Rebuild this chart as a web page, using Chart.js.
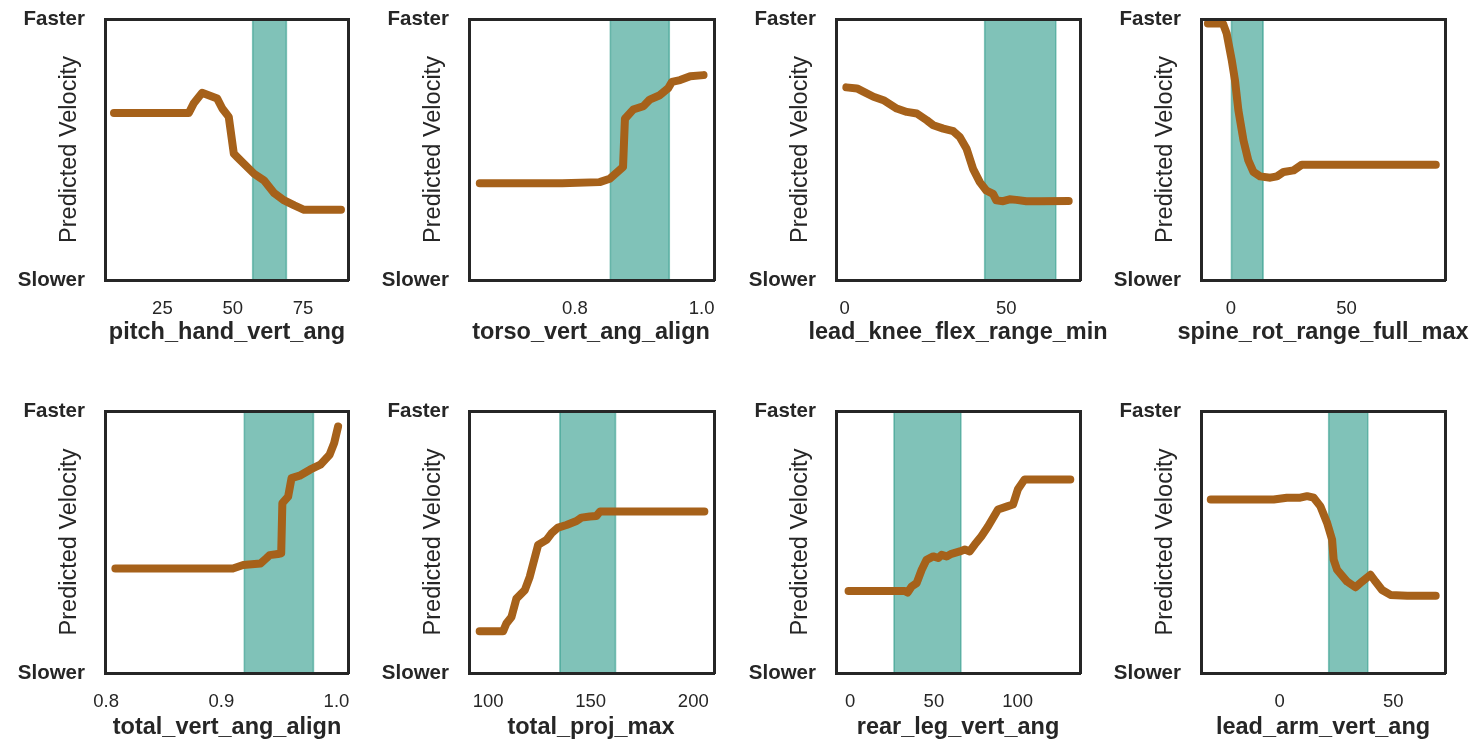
<!DOCTYPE html>
<html>
<head>
<meta charset="utf-8">
<script src="https://cdn.jsdelivr.net/npm/chart.js@4.4.0/dist/chart.umd.min.js"></script>
<style>
  html, body { margin: 0; padding: 0; background: #fff; overflow: hidden; width: 1477px; height: 750px; }
  canvas { position: absolute; }
</style>
</head>
<body>
<script>
        // Partial dependence curves (y: 0 = Slower, 1 = Faster)
        const p1X = [7.8, 34.4, 36.1, 39.1, 44.5, 46.3, 48.6, 50.4, 51.6, 57.6, 61.1, 64.7, 68.3, 71.9, 75.4, 88.5];
        const p1Y = [0.640, 0.640, 0.676, 0.717, 0.695, 0.657, 0.625, 0.484, 0.471, 0.407, 0.382, 0.333, 0.305, 0.286, 0.269, 0.269];

        const p2X = [0.650, 0.780, 0.839, 0.855, 0.876, 0.879, 0.892, 0.908, 0.918, 0.934, 0.947, 0.953, 0.966, 0.982, 1.003];
        const p2Y = [0.371, 0.371, 0.375, 0.388, 0.433, 0.618, 0.653, 0.666, 0.691, 0.708, 0.734, 0.759, 0.766, 0.781, 0.785];

        const p3X = [0.5, 3.8, 5.9, 8.9, 12.0, 16.1, 19.2, 22.3, 25.4, 27.4, 30.5, 33.6, 35.6, 37.7, 39.7, 41.8, 43.8, 45.9, 46.9, 49.0, 51.0, 53.1, 56.2, 60.3, 69.3];
        const p3Y = [0.738, 0.734, 0.721, 0.702, 0.689, 0.657, 0.644, 0.638, 0.612, 0.593, 0.580, 0.570, 0.548, 0.503, 0.426, 0.375, 0.343, 0.330, 0.305, 0.302, 0.309, 0.307, 0.302, 0.302, 0.303];

        const p4X = [-10, -3.5, -1.9, 0.3, 1.7, 3.2, 5.4, 7.5, 9.7, 12.6, 17.0, 19.9, 22.8, 27.1, 30.7, 35.8, 88.7];
        const p4Y = [0.983, 0.983, 0.945, 0.843, 0.766, 0.650, 0.535, 0.458, 0.414, 0.397, 0.392, 0.397, 0.414, 0.420, 0.442, 0.442, 0.442];

        const p5X = [0.808, 0.910, 0.919, 0.934, 0.939, 0.942, 0.949, 0.952, 0.953, 0.958, 0.961, 0.968, 0.977, 0.986, 0.994, 0.998, 1.0014];
        const p5Y = [0.399, 0.399, 0.412, 0.418, 0.4375, 0.450, 0.454, 0.457, 0.648, 0.673, 0.744, 0.753, 0.776, 0.795, 0.833, 0.878, 0.941];

        const p6X = [95.9, 107.3, 108.9, 111.4, 113.8, 117.9, 120.3, 122.0, 124.4, 128.5, 130.9, 134.1, 138.2, 143.1, 145.5, 149.6, 152.8, 154.5, 205.4];
        const p6Y = [0.159, 0.159, 0.189, 0.214, 0.284, 0.316, 0.367, 0.418, 0.489, 0.508, 0.533, 0.555, 0.565, 0.580, 0.593, 0.597, 0.599, 0.616, 0.616];

        const p7X = [-1, 32.7, 34.3, 36.7, 39.7, 42.7, 45.6, 49.6, 52.6, 54.6, 57.6, 60.5, 65.5, 68.5, 71.4, 74.4, 78.4, 82.4, 88.3, 94.3, 97.3, 100.2, 104.2, 131.5];
        const p7Y = [0.313, 0.313, 0.307, 0.330, 0.343, 0.394, 0.432, 0.445, 0.439, 0.451, 0.445, 0.455, 0.464, 0.471, 0.464, 0.490, 0.522, 0.560, 0.624, 0.637, 0.643, 0.701, 0.739, 0.739];

        const p8X = [-30.3, -2.6, 3.2, 9.1, 12.1, 15.0, 17.9, 20.9, 23.1, 23.8, 25.3, 29.7, 33.4, 36.3, 40.0, 42.2, 45.1, 48.8, 56.2, 68.7];
        const p8Y = [0.662, 0.662, 0.669, 0.669, 0.675, 0.669, 0.637, 0.573, 0.509, 0.432, 0.394, 0.349, 0.327, 0.349, 0.375, 0.349, 0.317, 0.298, 0.295, 0.295];

        // Shaded ranges
        const bands = [[57.1, 69.1], [0.856, 0.949], [43.3, 65.3], [0.2, 13.9], [0.920, 0.980], [135.0, 162.1], [26.2, 66.1], [21.6, 38.8]];

        // Axis titles, limits and ticks
        const xTitles = ['pitch_hand_vert_ang', 'torso_vert_ang_align', 'lead_knee_flex_range_min', 'spine_rot_range_full_max',
                         'total_vert_ang_align', 'total_proj_max', 'rear_leg_vert_ang', 'lead_arm_vert_ang'];
        const xLimits = [[4.6, 91.0], [0.633, 1.0195], [-2.7, 72.8], [-13, 92.7], [0.799, 1.010], [90.7, 210.1], [-8.5, 137.3], [-34.6, 72.8]];
        const xTicks = [[25, 50, 75], [0.8, 1.0], [0, 50], [0, 50], [0.8, 0.9, 1.0], [100, 150, 200], [0, 50, 100], [0, 50]];
        const xTickLabels = [['25', '50', '75'], ['0.8', '1.0'], ['0', '50'], ['0', '50'], ['0.8', '0.9', '1.0'], ['100', '150', '200'], ['0', '50', '100'], ['0', '50']];
        const yTicks = [0, 1];
        const yTickLabels = ['Slower', 'Faster'];
        const yTitle = 'Predicted Velocity';

        const curvesX = [p1X, p2X, p3X, p4X, p5X, p6X, p7X, p8X];
        const curvesY = [p1Y, p2Y, p3Y, p4Y, p5Y, p6Y, p7Y, p8Y];

        // Layout of the 2x4 grid
        const colLeft = [105, 469, 836, 1201];
        const colWidth = [243, 245, 244, 244];
        const rowLayout = [
            { top: 0, padTop: 19, padBottom: 12.9, xHeight: 38.9 },
            { top: 390, padTop: 21, padBottom: 7.9, xHeight: 40.9 }
        ];
        const CANVAS_W = 454, CANVAS_H = 360, LEFT_W = 105;
        const ink = '#262626';

        Chart.defaults.font.family = "'Liberation Sans', Arial, sans-serif";

        function drawPanel(i) {
            const row = rowLayout[Math.floor(i / 4)];
            const col = i % 4;
            const canvas = document.createElement('canvas');
            canvas.width = CANVAS_W;
            canvas.height = CANVAS_H;
            canvas.style.left = (colLeft[col] - LEFT_W) + 'px';
            canvas.style.top = row.top + 'px';
            document.body.appendChild(canvas);

            const band = bands[i];
            const border = { display: true, width: 3, color: ink, z: 1 };

            new Chart(canvas.getContext('2d'), {
                type: 'line',
                data: {
                    datasets: [{
                        data: curvesX[i].map((x, k) => ({ x: x, y: curvesY[i][k] })),
                        borderColor: '#a6611a',
                        borderWidth: 8,
                        borderCapStyle: 'round',
                        borderJoinStyle: 'round',
                        pointRadius: 0,
                        tension: 0,
                        fill: false
                    }, {
                        data: [{ x: band[0], y: 0 }, { x: band[0], y: 1 }, { x: band[1], y: 1 }, { x: band[1], y: 0 }],
                        borderColor: 'rgba(1,133,113,0.5)',
                        backgroundColor: 'rgba(1,133,113,0.5)',
                        borderWidth: 1.5,
                        pointRadius: 0,
                        tension: 0,
                        fill: 'origin'
                    }]
                },
                options: {
                    responsive: false,
                    animation: false,
                    devicePixelRatio: 1,
                    layout: { padding: { left: 0, right: 0, top: row.padTop, bottom: row.padBottom } },
                    plugins: {
                        legend: { display: false },
                        tooltip: { enabled: false },
                        title: {
                            display: true,
                            position: 'bottom',
                            text: xTitles[i],
                            color: ink,
                            padding: 0,
                            font: { size: 23.5, weight: 'bold' }
                        }
                    },
                    scales: {
                        x: {
                            type: 'linear',
                            position: 'bottom',
                            min: xLimits[i][0],
                            max: xLimits[i][1],
                            afterBuildTicks: s => { s.ticks = xTicks[i].map(v => ({ value: v })); },
                            afterFit: s => { s.height = row.xHeight; },
                            ticks: { autoSkip: false, maxRotation: 0, padding: 18, color: ink, font: { size: 18.5 },
                                     callback: (v, k) => xTickLabels[i][k] },
                            grid: { display: false, drawTicks: false },
                            border: border
                        },
                        y: {
                            type: 'linear',
                            position: 'left',
                            min: 0,
                            max: 1,
                            afterBuildTicks: s => { s.ticks = yTicks.map(v => ({ value: v })); },
                            afterFit: s => { s.width = LEFT_W; s.paddingTop = 0; s.paddingBottom = 0; },
                            ticks: { padding: 20, color: ink, font: { size: 20.5, weight: 'bold' },
                                     callback: (v, k) => yTickLabels[k] },
                            grid: { display: false, drawTicks: false },
                            border: border,
                            title: { display: true, text: yTitle, color: ink, font: { size: 23.5 },
                                     padding: { top: 55.2, bottom: 0 } }
                        },
                        x2: {
                            type: 'linear',
                            position: 'top',
                            ticks: { display: false },
                            grid: { display: false, drawTicks: false },
                            border: border,
                            afterFit: s => { s.height = 0; }
                        },
                        y2: {
                            type: 'linear',
                            position: 'right',
                            ticks: { display: false },
                            grid: { display: false, drawTicks: false },
                            border: border,
                            afterFit: s => { s.width = CANVAS_W - LEFT_W - colWidth[col]; }
                        }
                    }
                }
            });
        }

        for (let i = 0; i < 8; i++) {
            drawPanel(i);
        }
</script>
</body>
</html>
